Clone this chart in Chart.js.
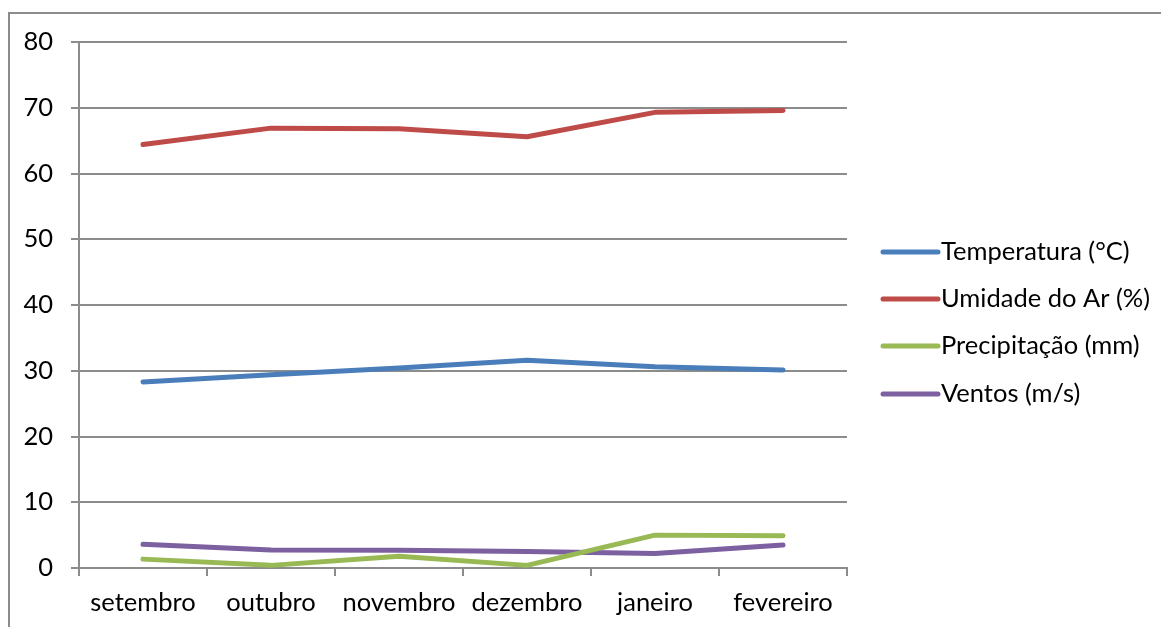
<!DOCTYPE html>
<html lang="pt">
<head>
<meta charset="utf-8">
<title>Condições climáticas</title>
<script src="https://cdn.jsdelivr.net/npm/chart.js@4/dist/chart.umd.min.js"></script>
<style>
  html, body { margin: 0; padding: 0; background: #ffffff; }
  #wrap { width: 1161px; height: 627px; }
</style>
</head>
<body>
<div id="wrap"><canvas id="chart" width="1161" height="627"></canvas></div>
<script>
// Months of the series
const months = ['setembro', 'outubro', 'novembro', 'dezembro', 'janeiro', 'fevereiro'];

// Monthly averages
const temperatura = [28.3, 29.4, 30.4, 31.6, 30.6, 30.1];
const umidade = [64.4, 66.9, 66.8, 65.6, 69.3, 69.6];
const precipitacao = [1.35, 0.4, 1.8, 0.4, 5.0, 4.9];
const ventos = [3.6, 2.75, 2.7, 2.5, 2.2, 3.5];

// Series names and colours
const seriesNames = ['Temperatura (°C)', 'Umidade do Ar (%)', 'Precipitação (mm)', 'Ventos (m/s)'];
const seriesColors = ['#4A7EBB', '#BE4B48', '#98B954', '#7D60A0'];

// Value axis ticks
const yTicks = [0, 10, 20, 30, 40, 50, 60, 70, 80];

const FONT = 'Lato, "Open Sans", sans-serif';
const FONT_SIZE = 25.5;
const AXIS_GRAY = '#8c8c8c';

const seriesValues = [temperatura, umidade, precipitacao, ventos];

// Outer frame of the chart
const framePlugin = {
  id: 'frame',
  beforeDraw(chart) {
    const ctx = chart.ctx;
    ctx.save();
    ctx.fillStyle = '#ffffff';
    ctx.fillRect(0, 0, chart.width, chart.height);
    ctx.strokeStyle = AXIS_GRAY;
    ctx.lineWidth = 2;
    ctx.strokeRect(9, 13, chart.width + 20, chart.height + 20);
    ctx.restore();
  }
};

// Legend on the right: line swatch followed by the series name
const sideLegendPlugin = {
  id: 'sideLegend',
  afterDraw(chart) {
    const ctx = chart.ctx;
    const x0 = 883, x1 = 938, textX = 941;
    const rowY = [252, 299, 346, 394];
    ctx.save();
    ctx.font = FONT_SIZE + 'px ' + FONT;
    ctx.textBaseline = 'middle';
    ctx.textAlign = 'left';
    chart.data.datasets.forEach((ds, i) => {
      const y = rowY[i];
      ctx.strokeStyle = ds.borderColor;
      ctx.lineWidth = 5;
      ctx.lineCap = 'round';
      ctx.beginPath();
      ctx.moveTo(x0, y);
      ctx.lineTo(x1, y);
      ctx.stroke();
      ctx.fillStyle = '#000000';
      ctx.fillText(ds.label, textX, y);
    });
    ctx.restore();
  }
};

const datasets = seriesNames.map((name, i) => ({
  label: name,
  data: seriesValues[i],
  borderColor: seriesColors[i],
  backgroundColor: seriesColors[i],
  borderWidth: 5,
  borderCapStyle: 'round',
  borderJoinStyle: 'round',
  pointRadius: 0,
  pointHoverRadius: 0,
  tension: 0,
  fill: false
}));

new Chart(document.getElementById('chart'), {
  type: 'line',
  data: { labels: months, datasets },
  plugins: [framePlugin, sideLegendPlugin],
  options: {
    responsive: false,
    animation: false,
    devicePixelRatio: 1,
    layout: { padding: { top: 42, right: 314, bottom: 0, left: 0 } },
    plugins: {
      legend: { display: false },
      tooltip: { enabled: false }
    },
    scales: {
      x: {
        type: 'category',
        offset: true,
        grid: {
          offset: true,
          drawOnChartArea: false,
          drawTicks: true,
          tickLength: 8,
          color: AXIS_GRAY,
          lineWidth: 2
        },
        border: { color: AXIS_GRAY, width: 2 },
        ticks: {
          color: '#000000',
          font: { family: FONT, size: FONT_SIZE },
          padding: 11,
          maxRotation: 0,
          autoSkip: false
        },
        afterFit(scale) { scale.height = 59; }
      },
      y: {
        min: 0,
        max: 80,
        afterBuildTicks(scale) { scale.ticks = yTicks.map(v => ({ value: v })); },
        grid: {
          color: AXIS_GRAY,
          lineWidth: 2,
          tickLength: 8,
          drawTicks: true
        },
        border: { color: AXIS_GRAY, width: 2 },
        ticks: {
          color: '#000000',
          font: { family: FONT, size: FONT_SIZE },
          padding: 18
        },
        afterFit(scale) { scale.width = 79; }
      }
    }
  }
});
</script>
</body>
</html>
